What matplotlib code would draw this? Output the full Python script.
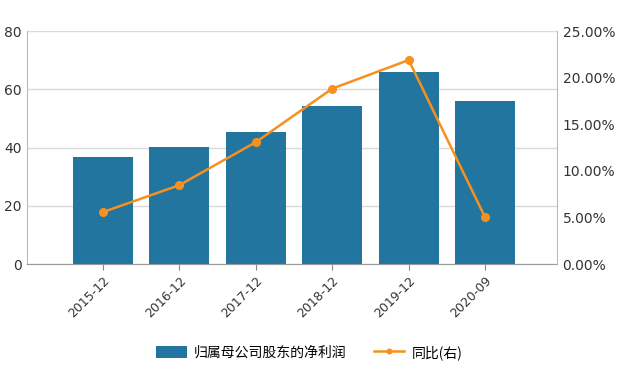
import matplotlib
matplotlib.use("Agg")
import matplotlib.pyplot as plt
from matplotlib.ticker import FuncFormatter

categories = ["2015-12", "2016-12", "2017-12", "2018-12", "2019-12", "2020-09"]
net_profit = [36.9, 40.3, 45.5, 54.1, 66.1, 55.9]
yoy_pct = [5.57, 8.46, 13.07, 18.82, 21.89, 5.0]
left_ticks = [0, 20, 40, 60, 80]
right_ticks = [0, 5, 10, 15, 20, 25]

bar_color = "#21759e"
line_color = "#f7901e"
axis_color = "#bbbbbb"

plt.rcParams['font.family'] = ['DejaVu Sans', 'Noto Sans CJK SC']

fig = plt.figure(figsize=(6.44, 3.74), dpi=100)
ax = fig.add_axes([0.042, 0.294, 0.823, 0.623])
x = list(range(len(categories)))
ax.bar(x, net_profit, width=0.78, color=bar_color, zorder=2, label="归属母公司股东的净利润")
ax.set_xlim(-0.99, 5.94)
ax.set_ylim(0, 80)
ax.set_yticks(left_ticks)
ax.grid(axis='y', color='#d9d9d9', linewidth=1, zorder=0)
ax.set_axisbelow(True)
ax.set_xticks(x)
ax.set_xticklabels(categories, rotation=45, ha='right', rotation_mode='anchor', fontsize=9, color='#333333')
ax.tick_params(axis='y', labelsize=10, colors='#333333', length=0, pad=4)
ax.tick_params(axis='x', length=4, color='#888888', pad=3)
for s in ['top', 'right']:
    ax.spines[s].set_visible(False)
ax.spines['left'].set_color(axis_color)
ax.spines['bottom'].set_color('#999999')

ax2 = ax.twinx()
ax2.plot(x, yoy_pct, color=line_color, linewidth=1.8, marker='o', markersize=5.5, zorder=3, label="同比(右)")
ax2.set_ylim(0, 25)
ax2.set_yticks(right_ticks)
ax2.yaxis.set_major_formatter(FuncFormatter(lambda v, p: f"{v:.2f}%"))
ax2.tick_params(axis='y', labelsize=10, colors='#333333', length=0, pad=4)
for s in ['top', 'left', 'bottom']:
    ax2.spines[s].set_visible(False)
ax2.spines['right'].set_color(axis_color)

h1, l1 = ax.get_legend_handles_labels()
h2, l2 = ax2.get_legend_handles_labels()
fig.legend(h1 + h2, l1 + l2, loc='center', bbox_to_anchor=(0.48, 0.058), ncol=2, frameon=False,
           prop={'family': ['Noto Sans CJK SC', 'DejaVu Sans'], 'size': 10},
           handlelength=2.2, handleheight=0.9, columnspacing=2.0, handletextpad=0.5,
           markerscale=0.6)

fig.savefig("out.png", dpi=100)
